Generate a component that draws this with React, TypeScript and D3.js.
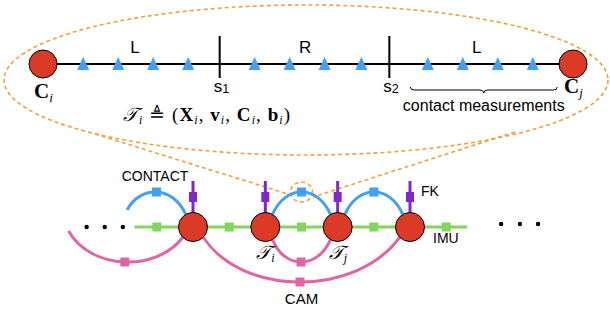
import React from "react";
import * as d3 from "d3";

const W = 610, H = 313;

// Top zoomed segment (units along trajectory between C_i and C_j)
const trajEnds = [0, 15.15];
const endLabels = ["i", "j"];
const measT = [1.15, 2.15, 3.15, 4.15, 6.05, 7.05, 8.05, 9.1, 11, 12, 13, 14];
const switchT = [5.05, 9.9];
const switchLabels = ["1", "2"];
const phaseT = [2.63, 7.49, 12.4];
const phaseLabels = ["L", "R", "L"];
const braceRange = [10.5, 14.7];

// Factor graph (node index units)
const keyframes = [0, 1, 2, 3];
const imuFactors = [-0.5, 0.5, 1.5, 2.5, 3.5];
const imuSpan = [-0.81, 3.79];
const contactArcs: [number, number][] = [[-0.91, 0], [1, 2], [2, 3]];
const camArcs: [number, number, number][] = [[-1.72, 0, 262], [1, 2, 262], [0, 3, 282]];
const dotsLeft = [-1.47, -1.22, -0.97];
const dotsRight = [4.26, 4.52, 4.77];
const nodeLabels: [number, string][] = [[1, "i"], [2, "j"]];

const RED = "#db3b26";
const BLUE = "#44a0f0";
const GREEN = "#82d65a";
const PINK = "#e065a5";
const PURPLE = "#7f27c8";
const ORANGE = "#f4a03f";

export default function App() {
  const tx = d3.scaleLinear().domain(trajEnds).range([43, 573]);
  const kx = d3.scaleLinear().domain([0, 3]).range([193, 410]);
  const topY = 64;
  const rowY = 227;
  const R = 14.5;
  const r = 14;

  const isNode = (k: number) => keyframes.includes(k);
  const onCircle = (k: number, deg: number) => {
    const a = (deg * Math.PI) / 180;
    return [kx(k) + R * Math.cos(a), rowY + R * Math.sin(a)];
  };

  const contactPath = (a: number, b: number) => {
    const p0 = isNode(a) ? onCircle(a, -60) : [kx(a), rowY - 17];
    const p1 = isNode(b) ? onCircle(b, -120) : [kx(b), rowY - 17];
    const peak = 192;
    const cy = (peak * 8 - p0[1] - p1[1]) / 6;
    const p = d3.path();
    p.moveTo(p0[0], p0[1]);
    p.bezierCurveTo(p0[0] + (p1[0] - p0[0]) * 0.22, cy, p0[0] + (p1[0] - p0[0]) * 0.78, cy, p1[0], p1[1]);
    return { d: p.toString(), mx: (p0[0] + p1[0]) / 2, my: peak };
  };

  const camPath = (a: number, b: number, low: number) => {
    const p0 = isNode(a) ? onCircle(a, b > a + 1 ? 45 : 60) : [kx(a), rowY + 4];
    const p1 = isNode(b) ? onCircle(b, b > a + 1 ? 135 : 120) : [kx(b), rowY + 4];
    const cy = (low * 8 - p0[1] - p1[1]) / 6;
    const p = d3.path();
    p.moveTo(p0[0], p0[1]);
    p.bezierCurveTo(p0[0] + (p1[0] - p0[0]) * 0.2, cy, p0[0] + (p1[0] - p0[0]) * 0.78, cy, p1[0], p1[1]);
    const mx = (p0[0] + 3 * (p0[0] + (p1[0] - p0[0]) * 0.2) + 3 * (p0[0] + (p1[0] - p0[0]) * 0.78) + p1[0]) / 8;
    return { d: p.toString(), mx, my: low };
  };

  // brace
  const bx0 = tx(braceRange[0]), bx1 = tx(braceRange[1]), bm = (bx0 + bx1) / 2, by = 87;
  const brace = d3.path();
  brace.moveTo(bx0, by);
  brace.quadraticCurveTo(bx0, by + 3, bx0 + 4, by + 3);
  brace.lineTo(bm - 4, by + 3);
  brace.quadraticCurveTo(bm, by + 3, bm, by + 6);
  brace.quadraticCurveTo(bm, by + 3, bm + 4, by + 3);
  brace.lineTo(bx1 - 4, by + 3);
  brace.quadraticCurveTo(bx1, by + 3, bx1, by);

  const sans = "Liberation Sans, Arial, Helvetica, sans-serif";
  const serif = "Liberation Serif, DejaVu Serif, Times New Roman, serif";
  const calT = "\u{1D4AF}";

  return (
    <svg width={W} height={H} style={{ position: "absolute", left: 0, top: 0, background: "#fff" }}>
      {/* callout ellipse */}
      <g fill="none" stroke={ORANGE} strokeWidth={1.6} strokeDasharray="4 3">
        <ellipse cx={306} cy={80} rx={302} ry={75} />
        <line x1={95} y1={134} x2={291} y2={195} />
        <line x1={515} y1={132} x2={313} y2={197} />
        <ellipse cx={kx(1.5)} cy={192} rx={11} ry={10} />
      </g>

      {/* top trajectory */}
      <line x1={tx(trajEnds[0])} x2={tx(trajEnds[1])} y1={topY} y2={topY} stroke="#000" strokeWidth={2} />
      {switchT.map((t, i) => (
        <g key={"s" + i}>
          <line x1={tx(t)} x2={tx(t)} y1={36} y2={78} stroke="#000" strokeWidth={2} />
          <text x={tx(t) - 6} y={92} fontFamily={sans} fontSize={17}>
            s<tspan fontSize={12.5} dy={1}>{switchLabels[i]}</tspan>
          </text>
        </g>
      ))}
      {measT.map((t, i) => (
        <path key={"m" + i} d={`M${tx(t) - 6},${topY + 6}L${tx(t) + 6},${topY + 6}L${tx(t)},${topY - 7}Z`} fill={BLUE} />
      ))}
      {phaseT.map((t, i) => (
        <text key={"p" + i} x={tx(t)} y={53} textAnchor="middle" fontFamily={sans} fontSize={17}>{phaseLabels[i]}</text>
      ))}
      {trajEnds.map((t, i) => (
        <g key={"c" + i}>
          <circle cx={tx(t)} cy={topY} r={r} fill={RED} stroke="#000" strokeWidth={1} />
          <text x={tx(t) - 9} y={i === 0 ? 98 : 93} fontFamily={serif} fontSize={21} fontWeight="bold">
            C<tspan fontSize={13} fontWeight="normal" fontStyle="italic" dy={4}>{endLabels[i]}</tspan>
          </text>
        </g>
      ))}
      <path d={brace.toString()} fill="none" stroke="#000" strokeWidth={1} />
      <text x={bm} y={111} textAnchor="middle" fontFamily={sans} fontSize={16}>contact measurements</text>
      <text x={123} y={121} fontFamily={serif} fontSize={19} textLength={167} lengthAdjust="spacing">
        <tspan fontFamily="DejaVu Serif, serif" fontStyle="italic">{calT}</tspan>
        <tspan fontSize={12} fontStyle="italic" dy={3}>i</tspan>
        <tspan dy={-3}> {"\u225C"} (</tspan>
        <tspan fontWeight="bold">X</tspan><tspan fontSize={12} fontStyle="italic" dy={3}>i</tspan>
        <tspan dy={-3}>, </tspan>
        <tspan fontWeight="bold">v</tspan><tspan fontSize={12} fontStyle="italic" dy={3}>i</tspan>
        <tspan dy={-3}>, </tspan>
        <tspan fontWeight="bold">C</tspan><tspan fontSize={12} fontStyle="italic" dy={3}>i</tspan>
        <tspan dy={-3}>, </tspan>
        <tspan fontWeight="bold">b</tspan><tspan fontSize={12} fontStyle="italic" dy={3}>i</tspan>
        <tspan dy={-3}>)</tspan>
      </text>

      {/* factor graph */}
      <line x1={kx(imuSpan[0])} x2={kx(imuSpan[1])} y1={rowY} y2={rowY} stroke={GREEN} strokeWidth={3} />
      {camArcs.map(([a, b, low], i) => {
        const c = camPath(a, b, low);
        return (
          <g key={"cam" + i}>
            <path d={c.d} fill="none" stroke={PINK} strokeWidth={3} />
            <rect x={c.mx - 4.5} y={c.my - 4.5} width={9} height={9} fill={PINK} />
          </g>
        );
      })}
      {contactArcs.map(([a, b], i) => {
        const c = contactPath(a, b);
        return (
          <g key={"ct" + i}>
            <path d={c.d} fill="none" stroke={BLUE} strokeWidth={3} />
            <rect x={c.mx - 4.5} y={c.my - 4.5} width={9} height={9} fill={BLUE} />
          </g>
        );
      })}
      {imuFactors.map((k, i) => (
        <rect key={"imu" + i} x={kx(k) - 4.5} y={rowY - 4.5} width={9} height={9} fill={GREEN} />
      ))}
      {keyframes.map((k) => (
        <g key={"fk" + k}>
          <line x1={kx(k)} x2={kx(k)} y1={181} y2={rowY} stroke={PURPLE} strokeWidth={3} />
          <rect x={kx(k) - 4} y={192} width={8} height={10} fill={PURPLE} />
        </g>
      ))}
      {keyframes.map((k) => (
        <circle key={"n" + k} cx={kx(k)} cy={rowY} r={R} fill={RED} stroke="#000" strokeWidth={1} />
      ))}
      {dotsLeft.map((k, i) => <circle key={"dl" + i} cx={kx(k)} cy={rowY} r={2.2} fill="#000" />)}
      {dotsRight.map((k, i) => <circle key={"dr" + i} cx={kx(k)} cy={rowY - 3} r={2.2} fill="#000" />)}
      {nodeLabels.map(([k, s]) => (
        <text key={"nl" + k} x={kx(k) - 9} y={259} fontFamily={serif} fontSize={19}>
          <tspan fontFamily="DejaVu Serif, serif" fontStyle="italic">{calT}</tspan>
          <tspan fontSize={12} fontStyle="italic" dy={3}>{s}</tspan>
        </text>
      ))}
      <text x={155} y={181} textAnchor="middle" fontFamily={sans} fontSize={14}>CONTACT</text>
      <text x={421} y={196} fontFamily={sans} fontSize={14}>FK</text>
      <text x={433} y={243} fontFamily={sans} fontSize={14}>IMU</text>
      <text x={kx(1.5)} y={304} textAnchor="middle" fontFamily={sans} fontSize={15}>CAM</text>
    </svg>
  );
}
